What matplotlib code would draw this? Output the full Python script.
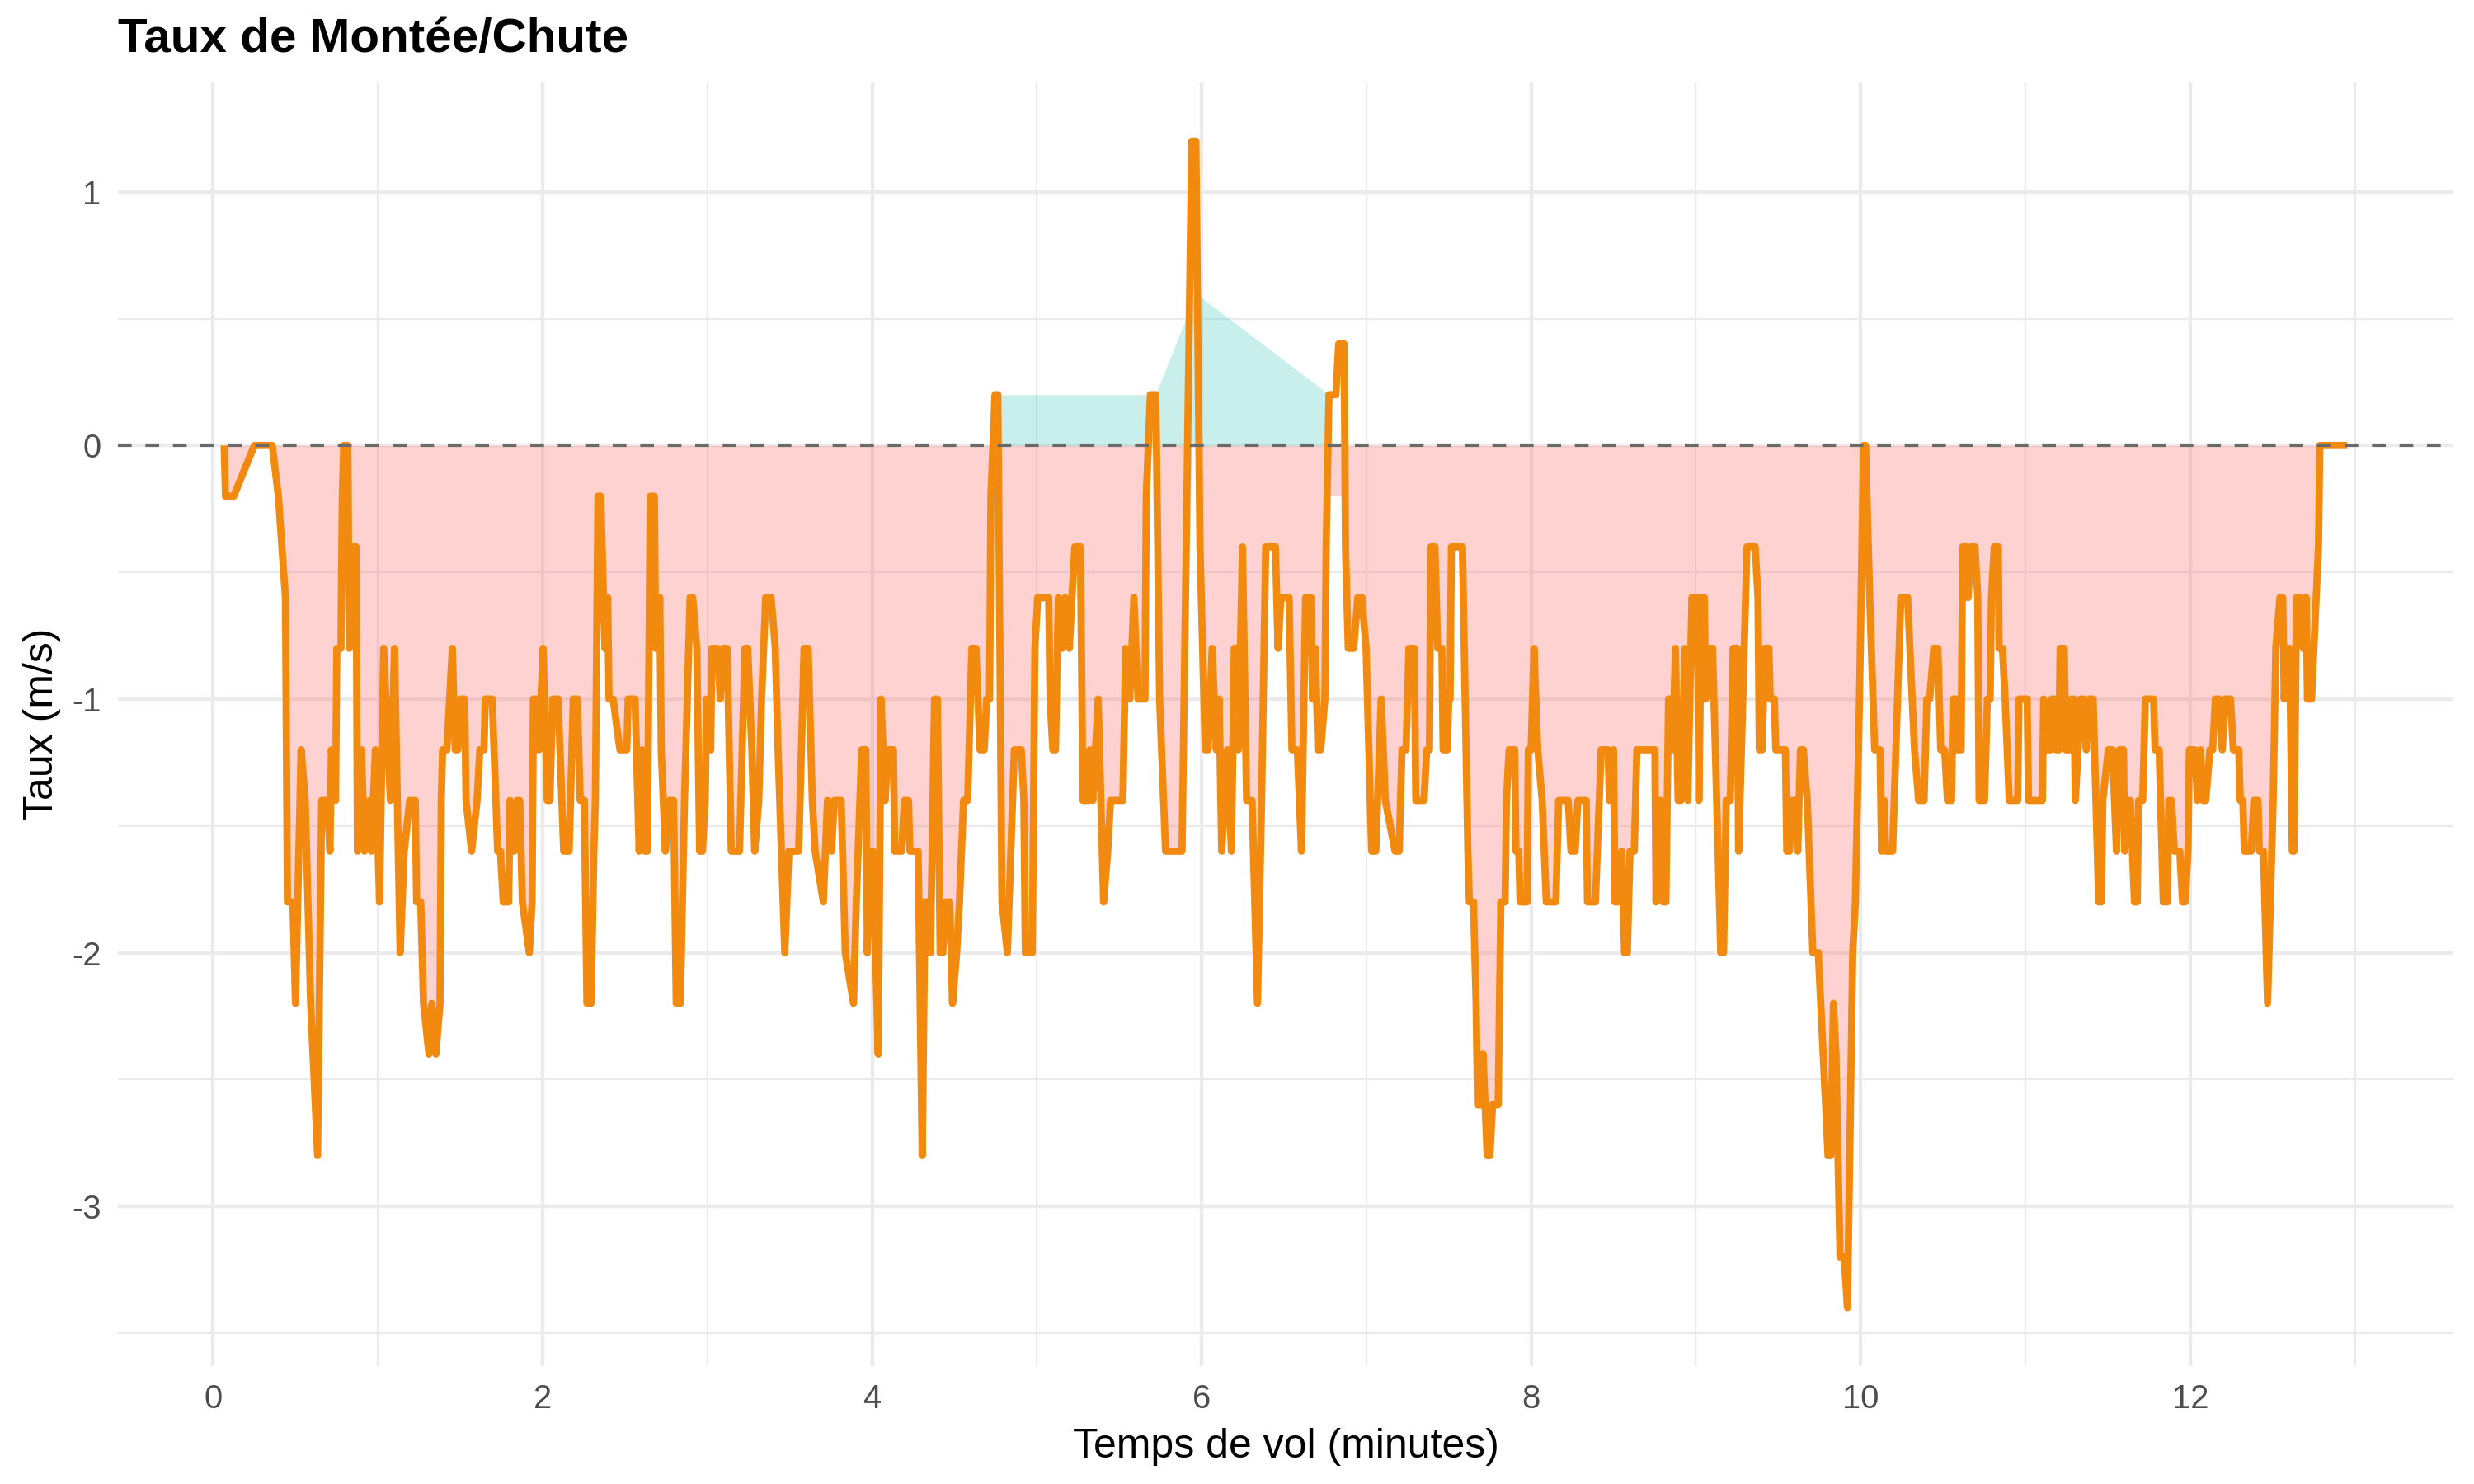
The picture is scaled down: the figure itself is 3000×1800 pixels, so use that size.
import matplotlib
matplotlib.use('Agg')
import matplotlib.pyplot as plt
import numpy as np

plt.rcParams['font.family'] = ['Liberation Sans', 'DejaVu Sans']
plt.rcParams['axes.unicode_minus'] = False

# temps de vol (minutes) et taux de montee/chute (m/s)
t = [0.067, 0.075, 0.125, 0.25, 0.359, 0.396, 0.439, 0.451, 0.484, 0.5,
     0.534, 0.559, 0.592, 0.634, 0.659, 0.693, 0.709, 0.718, 0.743, 0.751,
     0.776, 0.784, 0.793, 0.818, 0.826, 0.851, 0.868, 0.876, 0.901, 0.918,
     0.951, 0.96, 0.985, 1.01, 1.035, 1.076, 1.101, 1.135, 1.16,
     1.193, 1.227, 1.235, 1.26, 1.277, 1.31, 1.327, 1.352, 1.377, 1.385,
     1.393, 1.419, 1.452, 1.469, 1.485, 1.502, 1.527, 1.535, 1.569, 1.602,
     1.619, 1.644, 1.652, 1.694, 1.727, 1.744, 1.761, 1.794, 1.802, 1.827,
     1.844, 1.861, 1.877, 1.919, 1.936, 1.944, 1.961, 1.977, 2.003, 2.028,
     2.044, 2.061, 2.094, 2.128, 2.161, 2.186, 2.211, 2.228, 2.253, 2.269,
     2.294, 2.311, 2.32, 2.336, 2.353, 2.378, 2.395, 2.403,
     2.428, 2.469, 2.511, 2.519, 2.561, 2.586, 2.603, 2.62, 2.636, 2.653,
     2.678, 2.686, 2.711, 2.72, 2.745, 2.77, 2.795, 2.811, 2.836, 2.861,
     2.895, 2.911, 2.936, 2.953, 2.97, 2.987, 2.995, 3.02, 3.028, 3.062,
     3.078, 3.095, 3.12, 3.145, 3.195, 3.203, 3.228, 3.245, 3.27, 3.287,
     3.312, 3.329, 3.354, 3.387, 3.412, 3.429, 3.47, 3.495, 3.554, 3.571,
     3.587, 3.612,
     3.637, 3.654, 3.704, 3.729, 3.754, 3.77, 3.812, 3.837, 3.887, 3.904,
     3.937, 3.962, 3.971, 3.987, 4.004, 4.037, 4.054, 4.079, 4.096, 4.129,
     4.137, 4.179, 4.196, 4.221, 4.229, 4.279, 4.304, 4.321, 4.338, 4.354,
     4.379, 4.396, 4.413, 4.429, 4.446, 4.471, 4.488, 4.513, 4.53, 4.555,
     4.58, 4.605, 4.63, 4.655, 4.68, 4.696, 4.713, 4.721, 4.746, 4.763,
     4.788, 4.821, 4.863, 4.905, 4.921, 4.93, 4.972, 4.988, 5.005, 5.072,
     5.08, 5.097, 5.113, 5.13, 5.155, 5.172, 5.197, 5.213, 5.23, 5.264,
     5.28, 5.314, 5.322, 5.339, 5.372, 5.405, 5.43, 5.447, 5.522, 5.539,
     5.564, 5.589, 5.614, 5.656, 5.664, 5.689, 5.722, 5.745, 5.781, 5.881,
     5.94, 5.965, 5.99,
     6.022, 6.039, 6.064, 6.089, 6.106, 6.122, 6.156, 6.181, 6.198, 6.214,
     6.223, 6.248, 6.273, 6.306, 6.339, 6.364, 6.389, 6.448, 6.464, 6.481,
     6.531, 6.548, 6.581, 6.606, 6.631, 6.665, 6.673, 6.69, 6.706, 6.723,
     6.748, 6.756, 6.773, 6.815, 6.832, 6.865, 6.873, 6.89, 6.923, 6.948,
     6.973, 6.998, 7.032, 7.057, 7.09, 7.115,
     7.174, 7.199, 7.216, 7.241, 7.258, 7.291, 7.3, 7.35, 7.366, 7.383,
     7.391, 7.416, 7.433, 7.458, 7.466, 7.491, 7.5, 7.508, 7.516, 7.583,
     7.616, 7.625, 7.65, 7.666, 7.675, 7.7, 7.708, 7.733, 7.75, 7.766,
     7.8, 7.816, 7.842, 7.85, 7.866, 7.9, 7.908, 7.925, 7.933, 7.975,
     7.983, 8.0, 8.017, 8.04, 8.067, 8.092, 8.15, 8.167, 8.225, 8.242,
     8.267, 8.284, 8.334, 8.342, 8.39,
     8.425, 8.467, 8.475, 8.5, 8.509, 8.526, 8.55, 8.567, 8.584, 8.6,
     8.626, 8.642, 8.751, 8.758, 8.767, 8.784, 8.801, 8.818, 8.834, 8.851,
     8.859, 8.876, 8.892, 8.909, 8.934, 8.951, 8.976, 9.009, 9.018, 9.034,
     9.051, 9.059, 9.084, 9.101, 9.118, 9.151, 9.168, 9.184, 9.209, 9.226,
     9.251, 9.259, 9.285, 9.31, 9.36, 9.377, 9.385, 9.402, 9.418, 9.443,
     9.451, 9.476, 9.485, 9.543, 9.552, 9.568, 9.585, 9.605, 9.618,
     9.635, 9.652, 9.676, 9.71, 9.743, 9.802, 9.818, 9.835, 9.85, 9.875,
     9.9, 9.92, 9.952, 9.968, 9.993, 10.018, 10.03, 10.055, 10.085, 10.118,
     10.127, 10.143, 10.152, 10.194, 10.244, 10.285, 10.327, 10.352, 10.385, 10.402,
     10.419, 10.444, 10.469, 10.486, 10.51, 10.527, 10.552, 10.561, 10.577, 10.586,
     10.61, 10.619, 10.644, 10.652, 10.669, 10.694, 10.711, 10.719, 10.752, 10.769,
     10.786, 10.794, 10.811,
     10.836, 10.84, 10.861, 10.877, 10.902, 10.953, 10.961, 11.011, 11.019, 11.103,
     11.111, 11.119, 11.153, 11.161, 11.178, 11.186, 11.203, 11.211, 11.236, 11.245,
     11.27, 11.278, 11.295, 11.303, 11.32, 11.336, 11.353, 11.37, 11.386, 11.411,
     11.445, 11.461, 11.47, 11.503, 11.528, 11.553, 11.57, 11.595, 11.603, 11.62,
     11.637, 11.662, 11.679, 11.687, 11.712, 11.728, 11.778, 11.787, 11.812, 11.837,
     11.862, 11.87, 11.887, 11.904, 11.937, 11.954, 11.97, 11.987, 11.995,
     12.028, 12.045, 12.062, 12.078, 12.095, 12.12, 12.137, 12.153, 12.178, 12.195,
     12.212, 12.245, 12.262, 12.295, 12.304, 12.32, 12.329, 12.37, 12.387, 12.412,
     12.42, 12.445, 12.47, 12.504, 12.52, 12.545, 12.562, 12.571, 12.587, 12.604,
     12.62, 12.63, 12.646, 12.671, 12.687, 12.704, 12.712, 12.737, 12.779, 12.787,
     12.954]

rate = [0, -0.2, -0.2, 0, 0, -0.2, -0.6, -1.8, -1.8, -2.2,
        -1.2, -1.4, -2.2, -2.8, -1.4, -1.4, -1.6, -1.2, -1.4, -0.8,
        -0.8, -0.2, 0, 0, -0.8, -0.4, -0.4, -1.6, -1.2, -1.6,
        -1.4, -1.6, -1.2, -1.8, -0.8, -1.4, -0.8, -2.0, -1.6,
        -1.4, -1.4, -1.8, -1.8, -2.2, -2.4, -2.2, -2.4, -2.2, -1.4,
        -1.2, -1.2, -0.8, -1.2, -1.2, -1.0, -1.0, -1.4, -1.6, -1.4,
        -1.2, -1.2, -1.0, -1.0, -1.6, -1.6, -1.8, -1.8, -1.4, -1.6,
        -1.4, -1.4, -1.8, -2.0, -1.8, -1.0, -1.0, -1.2, -0.8, -1.4,
        -1.4, -1.0, -1.0, -1.6, -1.6, -1.0, -1.0, -1.4, -1.4, -2.2,
        -2.2, -1.6, -1.4, -0.2, -0.2, -0.8, -0.6, -1.0,
        -1.0, -1.2, -1.2, -1.0, -1.0, -1.6, -1.2, -1.6, -1.6, -0.2,
        -0.2, -0.8, -0.6, -1.2, -1.6, -1.4, -1.4, -2.2, -2.2, -1.4,
        -0.6, -0.6, -0.8, -1.6, -1.6, -1.4, -1.0, -1.2, -0.8, -0.8,
        -1.0, -0.8, -0.8, -1.6, -1.6, -1.4, -0.8, -0.8, -1.2, -1.6,
        -1.4, -1.0, -0.6, -0.6, -0.8, -1.2, -2.0, -1.6, -1.6, -1.2,
        -0.8, -0.8,
        -1.4, -1.6, -1.8, -1.4, -1.6, -1.4, -1.4, -2.0, -2.2, -1.8,
        -1.2, -1.2, -2.0, -1.6, -1.6, -2.4, -1.0, -1.4, -1.2, -1.2,
        -1.6, -1.6, -1.4, -1.4, -1.6, -1.6, -2.8, -1.8, -1.8, -2.0,
        -1.0, -1.0, -2.0, -2.0, -1.8, -1.8, -2.2, -2.0, -1.8, -1.4,
        -1.4, -0.8, -0.8, -1.2, -1.2, -1.0, -1.0, -0.2, 0.2, 0.2,
        -1.8, -2.0, -1.2, -1.2, -1.4, -2.0, -2.0, -0.8, -0.6, -0.6,
        -1.0, -1.2, -1.2, -0.6, -0.8, -0.6, -0.8, -0.6, -0.4, -0.4,
        -1.4, -1.4, -1.2, -1.4, -1.0, -1.8, -1.6, -1.4, -1.4, -0.8,
        -1.0, -0.6, -1.0, -1.0, -0.2, 0.2, 0.2, -1.0, -1.6, -1.6,
        1.2, 1.2, -0.4,
        -1.2, -1.2, -0.8, -1.2, -1.0, -1.6, -1.2, -1.6, -0.8, -0.8,
        -1.2, -0.4, -1.4, -1.4, -2.2, -1.4, -0.4, -0.4, -0.8, -0.6,
        -0.6, -1.2, -1.2, -1.6, -0.6, -0.6, -1.0, -0.8, -1.2, -1.2,
        -1.0, -0.4, 0.2, 0.2, 0.4, 0.4, -0.4, -0.8, -0.8, -0.6,
        -0.6, -0.8, -1.6, -1.6, -1.0, -1.4,
        -1.6, -1.6, -1.2, -1.2, -0.8, -0.8, -1.4, -1.4, -1.2, -1.2,
        -0.4, -0.4, -0.8, -0.8, -1.2, -1.2, -1.0, -1.0, -0.4, -0.4,
        -1.6, -1.8, -1.8, -2.2, -2.6, -2.6, -2.4, -2.8, -2.8, -2.6,
        -2.6, -1.8, -1.8, -1.4, -1.2, -1.2, -1.6, -1.6, -1.8, -1.8,
        -1.2, -1.2, -0.8, -1.2, -1.4, -1.8, -1.8, -1.4, -1.4, -1.6,
        -1.6, -1.4, -1.4, -1.8, -1.8,
        -1.2, -1.2, -1.4, -1.2, -1.8, -1.8, -1.6, -2.0, -2.0, -1.6,
        -1.6, -1.2, -1.2, -1.8, -1.4, -1.4, -1.8, -1.8, -1.0, -1.0,
        -1.2, -0.8, -1.4, -1.4, -0.8, -1.4, -0.6, -0.6, -1.4, -0.6,
        -0.6, -1.0, -0.8, -0.8, -1.2, -2.0, -2.0, -1.4, -1.4, -0.8,
        -0.8, -1.6, -1.0, -0.4, -0.4, -0.6, -1.2, -1.2, -0.8, -0.8,
        -1.0, -1.0, -1.2, -1.2, -1.6, -1.6, -1.4, -1.4, -1.6,
        -1.2, -1.2, -1.4, -2.0, -2.0, -2.8, -2.8, -2.2, -2.4, -3.2,
        -3.2, -3.4, -2.0, -1.8, -1.0, 0, 0, -0.6, -1.2, -1.2,
        -1.6, -1.4, -1.6, -1.6, -0.6, -0.6, -1.2, -1.4, -1.4, -1.0,
        -1.0, -0.8, -0.8, -1.2, -1.2, -1.4, -1.4, -1.0, -1.0, -1.2,
        -1.2, -0.4, -0.4, -0.6, -0.4, -0.4, -0.6, -1.4, -1.4, -1.0,
        -1.0, -0.6, -0.4,
        -0.4, -0.8, -0.8, -1.0, -1.4, -1.4, -1.0, -1.0, -1.4, -1.4,
        -1.0, -1.2, -1.2, -1.0, -1.0, -1.2, -1.2, -0.8, -0.8, -1.2,
        -1.2, -1.0, -1.0, -1.4, -1.2, -1.0, -1.0, -1.2, -1.0, -1.0,
        -1.8, -1.8, -1.4, -1.2, -1.2, -1.6, -1.2, -1.2, -1.6, -1.4,
        -1.4, -1.8, -1.8, -1.4, -1.4, -1.0, -1.0, -1.2, -1.2, -1.8,
        -1.8, -1.4, -1.4, -1.6, -1.6, -1.8, -1.8, -1.6, -1.2,
        -1.2, -1.4, -1.2, -1.4, -1.4, -1.2, -1.2, -1.0, -1.0, -1.2,
        -1.0, -1.0, -1.2, -1.2, -1.4, -1.4, -1.6, -1.6, -1.4, -1.4,
        -1.6, -1.6, -2.2, -1.4, -0.8, -0.6, -0.6, -1.0, -0.8, -0.8,
        -1.6, -1.6, -0.6, -0.6, -0.8, -0.6, -1.0, -1.0, -0.4, 0,
        0]

# zone positive (aire turquoise) et petite bande rose sous le pic de 6.8 min
pos_t = [4.73, 4.745, 5.72, 5.965, 6.775, 6.79]
pos_y = [0, 0.2, 0.2, 0.6, 0.2, 0]
notch_t = [6.765, 6.875]
notch_y = [-0.2, -0.2]

xticks = [0, 2, 4, 6, 8, 10, 12]
xminor = [1, 3, 5, 7, 9, 11, 13]
yticks = [-3, -2, -1, 0, 1]
yminor = [-3.5, -2.5, -1.5, -0.5, 0.5]

t = np.array(t)
rate = np.array(rate)

fig = plt.figure(figsize=(10, 6), dpi=300)
ax = fig.add_axes([0.0477, 0.0795, 0.944, 0.8647])

ax.fill_between(t, np.minimum(rate, 0), 0, color='#FF6B6B', alpha=0.3,
                linewidth=0, zorder=2)
ax.fill_between(notch_t, notch_y, 0, color='#FF6B6B', alpha=0.3,
                linewidth=0, zorder=2)
ax.fill_between(pos_t, pos_y, 0, color='#4ECDC4', alpha=0.3,
                linewidth=0, zorder=2)
ax.plot(t, rate, color='#F28A10', linewidth=2.1, solid_joinstyle='round',
        solid_capstyle='butt', zorder=3)
ax.axhline(0, color='#6A6A6A', linewidth=1.0, dashes=(4, 4), zorder=4)

ax.margins(x=0.05, y=0.05)
ax.set_xticks(xticks)
ax.set_xticks(xminor, minor=True)
ax.set_yticks(yticks)
ax.set_yticks(yminor, minor=True)
ax.grid(which='major', color='#EBEBEB', linewidth=1.05, zorder=0)
ax.grid(which='minor', color='#EBEBEB', linewidth=0.55, zorder=0)
ax.set_axisbelow(True)
for s in ax.spines.values():
    s.set_visible(False)
ax.tick_params(which='both', length=0, labelsize=9.6, labelcolor='#4D4D4D')
ax.tick_params(axis='x', pad=5)
ax.tick_params(axis='y', pad=5)

ax.set_xlabel('Temps de vol (minutes)', fontsize=12, labelpad=4)
ax.set_ylabel('Taux (m/s)', fontsize=12, labelpad=3)
ax.set_title('Taux de Montée/Chute', loc='left', fontsize=14,
             fontweight='bold', pad=9)

fig.savefig('out.png', dpi=300, facecolor='white')
